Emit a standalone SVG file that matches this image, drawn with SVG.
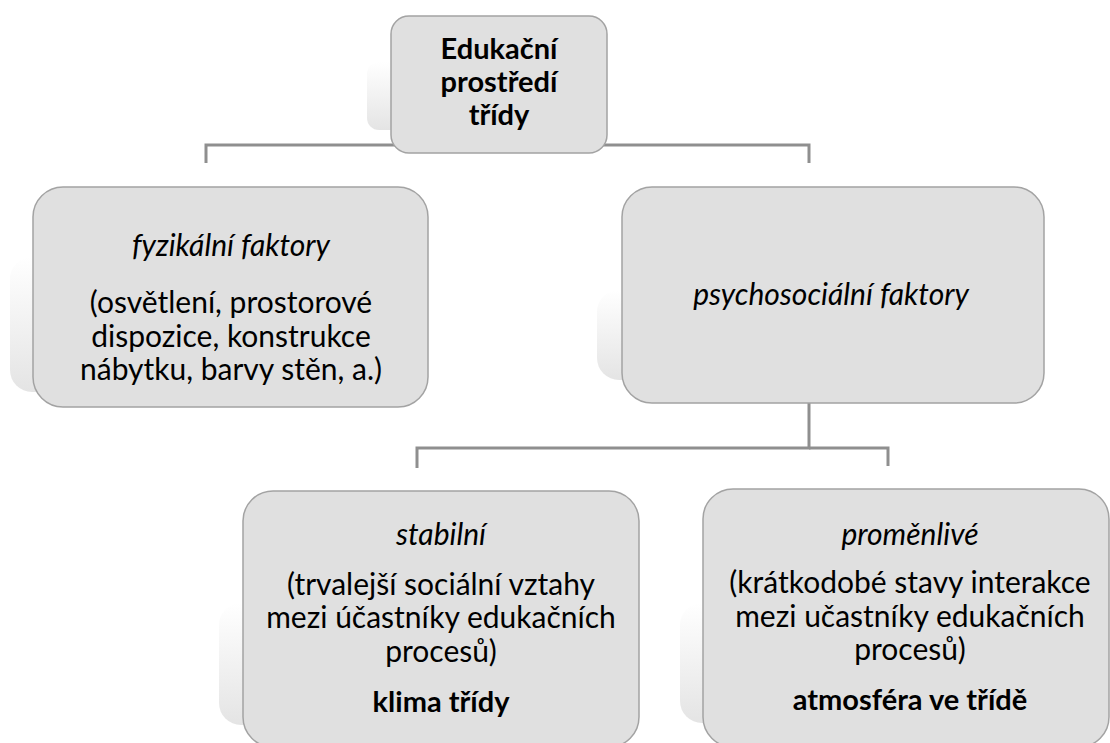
<svg xmlns="http://www.w3.org/2000/svg" width="1110" height="743" viewBox="0 0 1110 743">
<defs>
<linearGradient id="sh" x1="0" y1="0" x2="0" y2="1">
<stop offset="0" stop-color="#ffffff"/>
<stop offset="1" stop-color="#e4e4e4"/>
</linearGradient>
<style>
.box{fill:#e0e0e0;stroke:#a3a3a3;stroke-width:1.5}
.shadow{fill:url(#sh)}
.conn{fill:none;stroke:#8f8f8f;stroke-width:3}
text{font-family:Lato,"Liberation Sans",sans-serif;font-size:30px;fill:#000;text-anchor:middle}
.b{font-weight:bold;font-size:29px}
.i{font-style:italic}
</style>
</defs>
<g id="connectors">
<polyline class="conn" points="206,163 206,145 809,145 809,163"/>
<polyline class="conn" points="809,403 809,448 417,448 417,468"/>
<polyline class="conn" points="809,448 888,448 888,466"/>
</g>
<g id="node-top">
<rect class="shadow" x="367" y="62" width="60" height="68" rx="12"/>
<rect class="box" x="391" y="16" width="216" height="137" rx="18"/>
<text class="b" x="499" y="59">Edukační</text>
<text class="b" x="499" y="92">prostředí</text>
<text class="b" x="499" y="125">třídy</text>
</g>
<g id="node-physical">
<rect class="shadow" x="10" y="257" width="60" height="135" rx="22"/>
<rect class="box" x="33" y="187" width="395" height="220" rx="30"/>
<text class="i" x="231" y="256">fyzikální faktory</text>
<text x="231" y="313">(osvětlení, prostorové</text>
<text x="231" y="347">dispozice, konstrukce</text>
<text x="231" y="380">nábytku, barvy stěn, a.)</text>
</g>
<g id="node-psychosocial">
<rect class="shadow" x="597" y="290" width="60" height="90" rx="22"/>
<rect class="box" x="622" y="187" width="422" height="216" rx="30"/>
<text class="i" x="831" y="305">psychosociální faktory</text>
</g>
<g id="node-stable">
<rect class="shadow" x="219" y="603" width="60" height="122" rx="22"/>
<rect class="box" x="243" y="491" width="396" height="256" rx="30"/>
<text class="i" x="441" y="545">stabilní</text>
<text x="441" y="595">(trvalejší sociální vztahy</text>
<text x="441" y="628">mezi účastníky edukačních</text>
<text x="441" y="662">procesů)</text>
<text class="b" x="441" y="712">klima třídy</text>
</g>
<g id="node-variable">
<rect class="shadow" x="680" y="603" width="60" height="120" rx="22"/>
<rect class="box" x="703" y="489" width="406" height="258" rx="30"/>
<text class="i" x="910" y="545">proměnlivé</text>
<text x="910" y="593">(krátkodobé stavy interakce</text>
<text x="910" y="627">mezi učastníky edukačních</text>
<text x="910" y="660">procesů)</text>
<text class="b" x="910" y="710">atmosféra ve třídě</text>
</g>
</svg>
